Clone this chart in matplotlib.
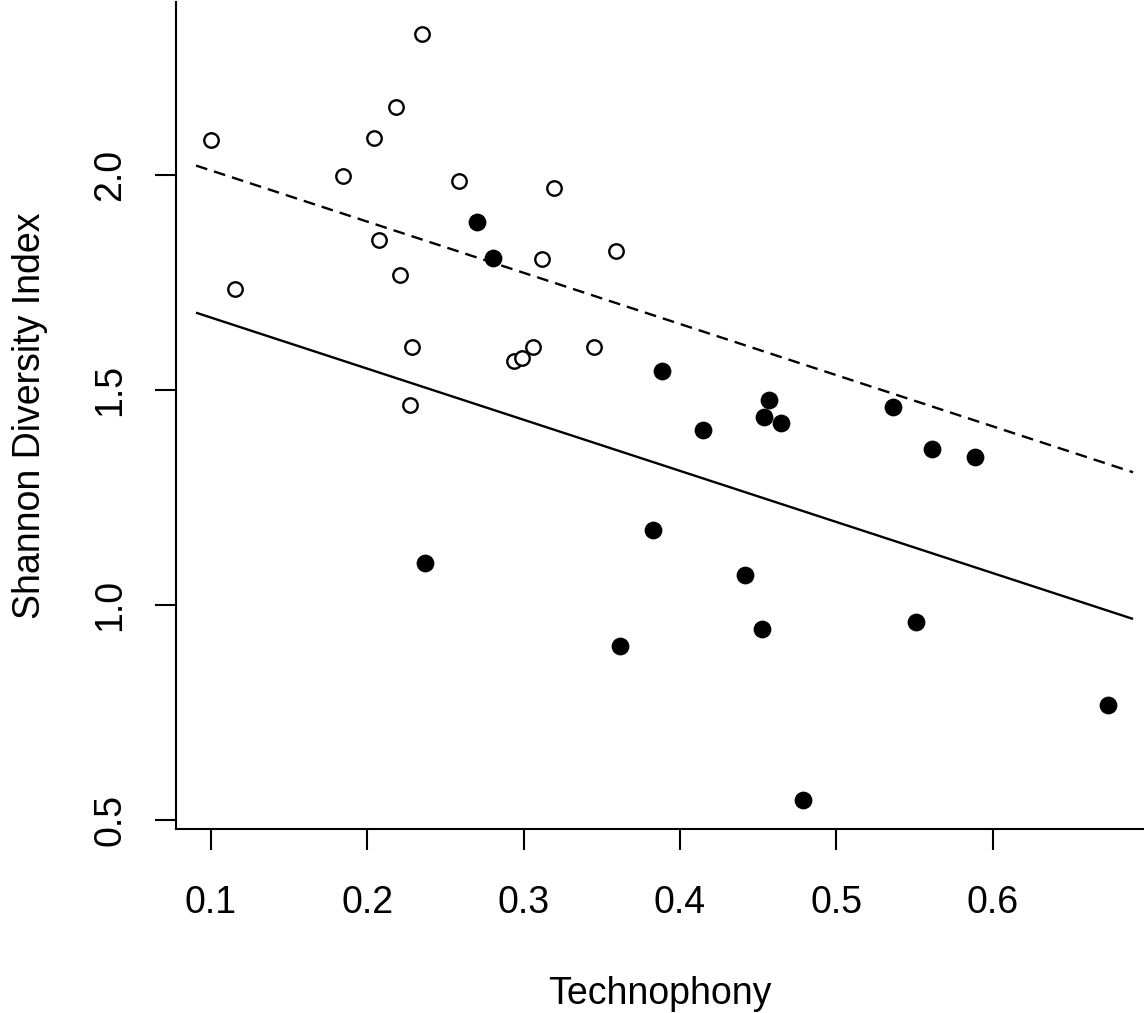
import matplotlib
matplotlib.use("Agg")
import matplotlib.pyplot as plt

plt.rcParams['font.family'] = ['Liberation Sans', 'DejaVu Sans']

# open circles
openX = [0.1000, 0.1152, 0.1846, 0.2045, 0.2181, 0.2348, 0.2073, 0.2209, 0.2286,
         0.2271, 0.2588, 0.3196, 0.3119, 0.3593, 0.3060, 0.2940, 0.2987, 0.3452]
openY = [2.081, 1.734, 1.998, 2.087, 2.158, 2.329, 1.850, 1.767, 1.601,
         1.465, 1.986, 1.970, 1.805, 1.823, 1.601, 1.568, 1.574, 1.601]

# filled circles
fillX = [0.2703, 0.2806, 0.2369, 0.3886, 0.4144, 0.4567, 0.4535, 0.4644, 0.5361,
         0.5614, 0.5890, 0.3824, 0.4415, 0.4522, 0.5510, 0.3615, 0.4784, 0.6739]
fillY = [1.891, 1.808, 1.098, 1.544, 1.407, 1.478, 1.438, 1.423, 1.461,
         1.362, 1.345, 1.175, 1.070, 0.945, 0.960, 0.906, 0.547, 0.767]

# fitted lines
lineX = [0.0904, 0.6898]
solidY = [1.680, 0.968]
dashedY = [2.022, 1.309]

W, H = 1144, 1013
fig = plt.figure(figsize=(W / 100, H / 100), dpi=100)
axL, axR, axT, axB = 175.7, 1144, 2.1, 829.3
ax = fig.add_axes([axL / W, 1 - axB / H, (axR - axL) / W, (axB - axT) / H])

ax.plot(lineX, solidY, color='black', lw=1.7, solid_capstyle='butt')
ax.plot(lineX, dashedY, color='black', lw=1.7, dashes=(5.0, 3.0), dash_capstyle='butt')
ax.plot(openX, openY, 'o', ls='none', ms=10.4, mfc='white', mec='black', mew=1.7)
ax.plot(fillX, fillY, 'o', ls='none', ms=12.8, mfc='black', mec='black', mew=0)

ax.set_xlim(0.0774, 0.6968)
ax.set_ylim(0.479, 2.402)
ax.set_xticks([0.1, 0.2, 0.3, 0.4, 0.5, 0.6])
ax.set_xticklabels(['0.1', '0.2', '0.3', '0.4', '0.5', '0.6'])
ax.set_yticks([0.5, 1.0, 1.5, 2.0])
ax.set_yticklabels(['0.5', '1.0', '1.5', '2.0'])

for s in ['top', 'right']:
    ax.spines[s].set_visible(False)
for s in ['left', 'bottom']:
    ax.spines[s].set_linewidth(1.5)

ax.tick_params(axis='both', direction='out', length=15, width=1.5, labelsize=27)
ax.tick_params(axis='x', pad=25)
ax.tick_params(axis='y', pad=19, labelrotation=90)
for lab in ax.get_yticklabels():
    lab.set_va('center')

ax.set_xlabel('Technophony', fontsize=27)
ax.xaxis.set_label_coords(0.5, -(1004 - axB) / (axB - axT), transform=ax.transAxes)
ax.xaxis.label.set_va('baseline')
ax.set_ylabel('Shannon Diversity Index', fontsize=27)
ax.yaxis.label.set_va('baseline')
ax.yaxis.set_label_coords(-(axL - 40) / (axR - axL), 0.5)

fig.savefig('out.png', dpi=100)
